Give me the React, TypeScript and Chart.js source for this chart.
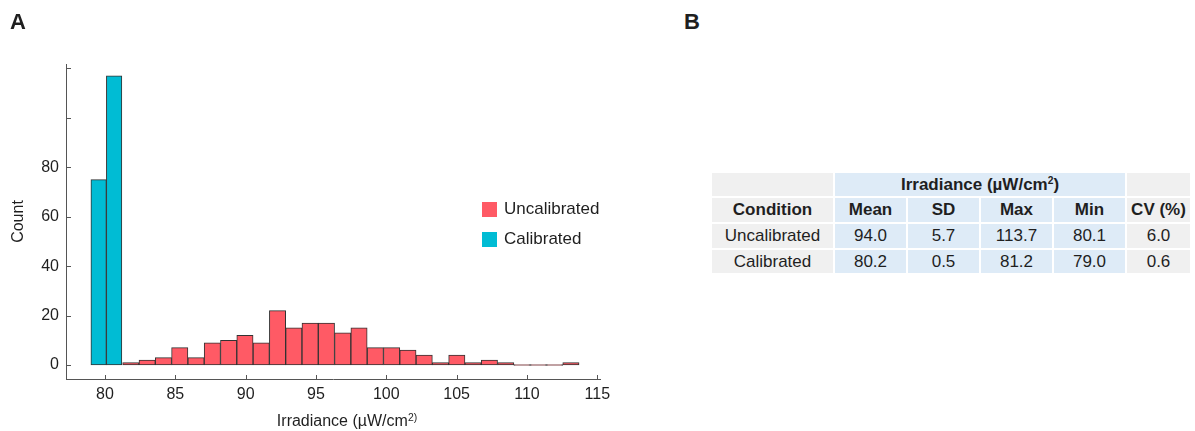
import React, { useEffect, useRef } from 'react';
import { Chart, registerables } from 'chart.js';

Chart.register(...registerables);

// Histogram bins (irradiance, µW/cm²)
const calibratedEdges = [79.0, 80.1, 81.2];
const calibratedCounts = [75, 117];

const uncalibratedFirstEdge = 81.26;
const uncalibratedBinWidth = 1.1586;
const uncalibratedCounts = [
  1, 2, 3, 7, 3, 9, 10, 12, 9, 22, 15, 17, 17, 13, 15, 7, 7, 6, 4, 1, 4, 1, 2, 1, 0, 0, 0, 1,
];

// Axis ticks
const xTickValues = [80, 85, 90, 95, 100, 105, 110, 115];
const yTickValues = [0, 20, 40, 60, 80, 100, 120];
const yTickLabels = ['0', '20', '40', '60', '80', '', ''];

// Summary table
const tableColumns = ['Condition', 'Mean', 'SD', 'Max', 'Min', 'CV (%)'];
const tableConditions = ['Uncalibrated', 'Calibrated'];
const tableMean = ['94.0', '80.2'];
const tableSD = ['5.7', '0.5'];
const tableMax = ['113.7', '81.2'];
const tableMin = ['80.1', '79.0'];
const tableCV = ['6.0', '0.6'];

const RED = '#ff5a65';
const BLUE = '#00bcd4';
const EDGE = '#333333';
const AXIS = '#555555';
const TEXT = '#1f1f1f';
const FONT = "'Liberation Sans', Arial, Helvetica, sans-serif";

const X_MIN = 77.23;
const X_MAX = 115.19;
const Y_MIN = -5.66;
const Y_MAX = 121.74;

// Tick marks drawn pointing into the plot area
const inwardTicks = {
  id: 'inwardTicks',
  afterDatasetsDraw(chart: any) {
    const { ctx, chartArea, scales } = chart;
    ctx.save();
    ctx.strokeStyle = AXIS;
    ctx.lineWidth = 1;
    ctx.beginPath();
    scales.x.ticks.forEach((t: any) => {
      const px = Math.round(scales.x.getPixelForValue(t.value)) + 0.5;
      ctx.moveTo(px, chartArea.bottom);
      ctx.lineTo(px, chartArea.bottom - 4);
    });
    scales.y.ticks.forEach((t: any) => {
      const py = Math.round(scales.y.getPixelForValue(t.value)) + 0.5;
      ctx.moveTo(chartArea.left, py);
      ctx.lineTo(chartArea.left + 5, py);
    });
    ctx.stroke();
    ctx.restore();
  },
};

function Histogram() {
  const canvasRef = useRef<HTMLCanvasElement | null>(null);

  useEffect(() => {
    if (!canvasRef.current) return;
    const calibratedData = calibratedCounts.map((c, i) => ({
      x: (calibratedEdges[i] + calibratedEdges[i + 1]) / 2,
      y: c,
    }));
    const uncalibratedData = uncalibratedCounts.map((c, i) => ({
      x: uncalibratedFirstEdge + (i + 0.5) * uncalibratedBinWidth,
      y: c,
    }));

    const chart = new Chart(canvasRef.current, {
      type: 'bar',
      data: {
        datasets: [
          {
            label: 'Uncalibrated',
            data: uncalibratedData,
            xAxisID: 'x2',
            yAxisID: 'y',
            backgroundColor: RED,
            borderColor: EDGE,
            borderWidth: 1,
            borderSkipped: false,
            barPercentage: 1,
            categoryPercentage: 1,
            grouped: false,
            minBarLength: 1,
          },
          {
            label: 'Calibrated',
            data: calibratedData,
            xAxisID: 'x',
            yAxisID: 'y',
            backgroundColor: BLUE,
            borderColor: EDGE,
            borderWidth: 1,
            borderSkipped: false,
            barPercentage: 1,
            categoryPercentage: 1,
            grouped: false,
          },
        ],
      },
      options: {
        animation: false,
        responsive: false,
        devicePixelRatio: 1,
        layout: { padding: { top: 64, right: 20, left: 0, bottom: 0 } },
        plugins: { legend: { display: false }, tooltip: { enabled: false } },
        scales: {
          x: {
            type: 'linear',
            position: 'bottom',
            min: X_MIN,
            max: X_MAX,
            offset: false,
            grid: { display: false, drawTicks: false },
            border: { display: true, color: AXIS, width: 1 },
            ticks: {
              color: TEXT,
              font: { family: FONT, size: 16 },
              padding: 6,
              autoSkip: false,
              maxRotation: 0,
            },
            afterBuildTicks: (s: any) => {
              s.ticks = xTickValues.map((v) => ({ value: v }));
            },
            afterFit: (s: any) => {
              s.height = 52;
            },
          },
          x2: {
            type: 'linear',
            position: 'bottom',
            display: false,
            min: X_MIN,
            max: X_MAX,
            offset: false,
          },
          y: {
            type: 'linear',
            min: Y_MIN,
            max: Y_MAX,
            grid: { display: false, drawTicks: false },
            border: { display: true, color: AXIS, width: 1 },
            ticks: {
              color: TEXT,
              font: { family: FONT, size: 16 },
              padding: 7,
              callback: (_v: any, i: number) => yTickLabels[i],
            },
            afterBuildTicks: (s: any) => {
              s.ticks = yTickValues.map((v) => ({ value: v }));
            },
            afterFit: (s: any) => {
              s.width = 66;
            },
            title: {
              display: true,
              text: 'Count',
              color: TEXT,
              font: { family: FONT, size: 16 },
              padding: { top: 9, bottom: 0 },
            },
          },
        },
      },
      plugins: [inwardTicks],
    } as any);

    return () => chart.destroy();
  }, []);

  return (
    <canvas
      ref={canvasRef}
      width={620}
      height={431}
      style={{ position: 'absolute', left: 0, top: 0, width: 620, height: 431 }}
    />
  );
}

const legendItems = [
  { label: 'Uncalibrated', color: RED },
  { label: 'Calibrated', color: BLUE },
];

const GRAY_BG = '#f0f0f0';
const BLUE_BG = '#deebf7';

function StatsTable() {
  const cell = (content: React.ReactNode, bg: string, bold = false, extra: React.CSSProperties = {}) => ({
    content,
    style: {
      background: bg,
      fontWeight: bold ? 700 : 400,
      display: 'flex',
      alignItems: 'center',
      justifyContent: 'center',
      ...extra,
    } as React.CSSProperties,
  });

  const cells: { content: React.ReactNode; style: React.CSSProperties }[] = [];
  // header row 1
  cells.push(cell('', GRAY_BG));
  cells.push(
    cell(
      <span>
        Irradiance (µW/cm<sup style={{ fontSize: '0.6em', verticalAlign: '0.55em' }}>2</sup>)
      </span>,
      BLUE_BG,
      true,
      { gridColumn: '2 / span 4' }
    )
  );
  cells.push(cell('', GRAY_BG));
  // header row 2
  tableColumns.forEach((c, i) => cells.push(cell(c, i === 0 || i === 5 ? GRAY_BG : BLUE_BG, true)));
  // data rows
  tableConditions.forEach((cond, r) => {
    cells.push(cell(cond, GRAY_BG));
    cells.push(cell(tableMean[r], BLUE_BG));
    cells.push(cell(tableSD[r], BLUE_BG));
    cells.push(cell(tableMax[r], BLUE_BG));
    cells.push(cell(tableMin[r], BLUE_BG));
    cells.push(cell(tableCV[r], GRAY_BG));
  });

  return (
    <div
      style={{
        position: 'absolute',
        left: 712,
        top: 173,
        display: 'grid',
        gridTemplateColumns: '121px 71px 71px 71px 71px 63px',
        gridTemplateRows: '23px 24px 24px 23px',
        columnGap: 2,
        rowGap: 2,
        fontSize: 17,
        color: TEXT,
        fontFamily: FONT,
      }}
    >
      {cells.map((c, i) => (
        <div key={i} style={c.style}>
          {c.content}
        </div>
      ))}
    </div>
  );
}

export default function App() {
  useEffect(() => {
    document.body.style.margin = '0';
  }, []);

  return (
    <div
      style={{
        position: 'relative',
        width: 1195,
        height: 431,
        background: '#ffffff',
        fontFamily: FONT,
        color: TEXT,
        overflow: 'hidden',
      }}
    >
      <Histogram />
      <div style={{ position: 'absolute', left: 10, top: 9, fontSize: 22, fontWeight: 700 }}>A</div>
      <div style={{ position: 'absolute', left: 684, top: 9, fontSize: 22, fontWeight: 700 }}>B</div>
      <div
        style={{
          position: 'absolute',
          left: 247,
          width: 200,
          top: 411,
          textAlign: 'center',
          fontSize: 16,
          lineHeight: '20px',
          whiteSpace: 'nowrap',
        }}
      >
        Irradiance (µW/cm
        <sup style={{ fontSize: '0.65em', verticalAlign: '0.5em', lineHeight: 0 }}>2)</sup>
      </div>
      {legendItems.map((item, i) => (
        <div
          key={item.label}
          style={{
            position: 'absolute',
            left: 482,
            top: 200 + i * 30,
            height: 18,
            display: 'flex',
            alignItems: 'center',
            fontSize: 17,
            whiteSpace: 'nowrap',
          }}
        >
          <span style={{ display: 'inline-block', width: 15, height: 15, background: item.color, marginRight: 7 }} />
          {item.label}
        </div>
      ))}
      <StatsTable />
    </div>
  );
}
